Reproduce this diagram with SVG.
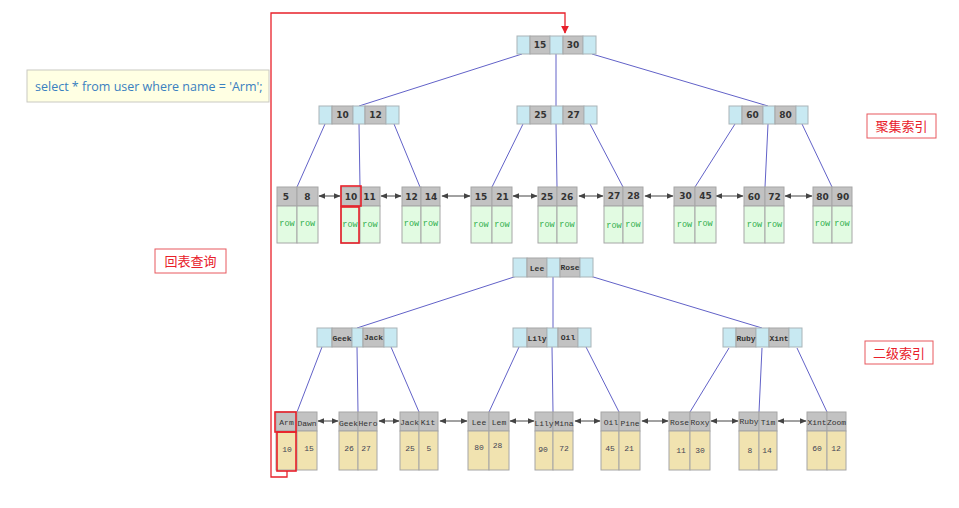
<svg xmlns="http://www.w3.org/2000/svg" width="959" height="508" viewBox="0 0 959 508">
<defs>
<marker id="ah" viewBox="0 0 10 10" refX="9" refY="5" markerWidth="7" markerHeight="7" orient="auto-start-reverse" markerUnits="userSpaceOnUse"><path d="M0,1 L10,5 L0,9 z" fill="#444"/></marker>
<marker id="rh" viewBox="0 0 10 10" refX="9" refY="5" markerWidth="8" markerHeight="8" orient="auto" markerUnits="userSpaceOnUse"><path d="M0,0 L10,5 L0,10 z" fill="#e8202a"/></marker>
<style>
.b{fill:#c8e9f2;stroke:#a9b4b8;stroke-width:1}
.g{fill:#c2c2c2;stroke:#a6a6a6;stroke-width:1}
.gr{fill:#e2fbe2;stroke:#a6a6a6;stroke-width:1}
.ye{fill:#f1e3b0;stroke:#a6a6a6;stroke-width:1}
.k{font-family:"DejaVu Sans",sans-serif;font-weight:bold;font-size:9px;fill:#333;text-anchor:middle}
.m{font-family:"Liberation Mono","DejaVu Sans Mono",monospace;font-size:8px;fill:#333;text-anchor:middle}
.v{font-family:"Liberation Mono","DejaVu Sans Mono",monospace;font-size:8px;fill:#445;text-anchor:middle}
.row{font-family:"Liberation Mono","DejaVu Sans Mono",monospace;font-size:8.5px;fill:#2fae4c;text-anchor:middle}
.ln{stroke:#6262c8;stroke-width:1;fill:none}
.lk{stroke:#444;stroke-width:1;fill:none;marker-start:url(#ah);marker-end:url(#ah)}
.hl{fill:none;stroke:#e8202a;stroke-width:1.6}
.lab{fill:#fff;stroke:#e8585e;stroke-width:1}
.labt{font-family:"Noto Sans CJK SC",sans-serif;font-size:13px;fill:#e8202a;text-anchor:middle}
</style>
</defs>
<rect width="959" height="508" fill="#fff"/>

<!-- connectors -->
<g id="connectors">
<line class="ln" x1="522" y1="54" x2="359" y2="106"/>
<line class="ln" x1="556" y1="54" x2="556" y2="106"/>
<line class="ln" x1="592" y1="54" x2="768" y2="106"/>
<line class="ln" x1="325" y1="124" x2="297" y2="187"/>
<line class="ln" x1="359" y1="124" x2="360" y2="187"/>
<line class="ln" x1="394" y1="124" x2="420" y2="187"/>
<line class="ln" x1="523" y1="124" x2="492" y2="187"/>
<line class="ln" x1="556" y1="124" x2="557" y2="187"/>
<line class="ln" x1="590" y1="124" x2="623" y2="187"/>
<line class="ln" x1="735" y1="124" x2="695" y2="187"/>
<line class="ln" x1="768" y1="124" x2="765" y2="187"/>
<line class="ln" x1="802" y1="124" x2="832" y2="187"/>

<line class="ln" x1="517" y1="276" x2="357" y2="328"/>
<line class="ln" x1="553" y1="276" x2="553" y2="328"/>
<line class="ln" x1="590" y1="276" x2="762" y2="328"/>
<line class="ln" x1="322" y1="347" x2="297" y2="412"/>
<line class="ln" x1="357" y1="347" x2="358" y2="412"/>
<line class="ln" x1="391" y1="347" x2="419" y2="412"/>
<line class="ln" x1="519" y1="347" x2="489" y2="412"/>
<line class="ln" x1="552" y1="347" x2="553" y2="412"/>
<line class="ln" x1="586" y1="347" x2="619" y2="412"/>
<line class="ln" x1="729" y1="348" x2="690" y2="412"/>
<line class="ln" x1="762" y1="348" x2="759" y2="412"/>
<line class="ln" x1="797" y1="348" x2="827" y2="412"/>

<line class="lk" x1="319" y1="196" x2="340" y2="196"/>
<line class="lk" x1="381" y1="196" x2="401" y2="196"/>
<line class="lk" x1="442" y1="196" x2="470" y2="196"/>
<line class="lk" x1="513" y1="196" x2="537" y2="196"/>
<line class="lk" x1="579" y1="196" x2="603" y2="196"/>
<line class="lk" x1="645" y1="196" x2="673" y2="196"/>
<line class="lk" x1="716" y1="196" x2="743" y2="196"/>
<line class="lk" x1="785" y1="196" x2="812" y2="196"/>

<line class="lk" x1="318" y1="421" x2="338" y2="421"/>
<line class="lk" x1="379" y1="421" x2="399" y2="421"/>
<line class="lk" x1="440" y1="421" x2="467" y2="421"/>
<line class="lk" x1="510" y1="421" x2="534" y2="421"/>
<line class="lk" x1="575" y1="421" x2="600" y2="421"/>
<line class="lk" x1="642" y1="421" x2="668" y2="421"/>
<line class="lk" x1="711" y1="421" x2="738" y2="421"/>
<line class="lk" x1="778" y1="421" x2="806" y2="421"/>

<path d="M287,471 V477 H271 V13 H565 V33" fill="none" stroke="#e8202a" stroke-width="1.3" marker-end="url(#rh)"/>
</g>

<!-- query box -->
<g id="query">
<rect x="27" y="70" width="242" height="32" fill="#ffffe3" stroke="#c9c9c2"/>
<text x="35" y="91" font-family="'Open Sans','Noto Sans',sans-serif" font-size="12.5" fill="#3a80c0">select * from user where name = 'Arm';</text>
</g>

<!-- labels -->
<g id="label-clustered"><rect class="lab" x="867" y="114" width="69" height="24"/><text class="labt" x="901.5" y="131">聚集索引</text></g>
<g id="label-secondary"><rect class="lab" x="865" y="341" width="68" height="23"/><text class="labt" x="899" y="357.5">二级索引</text></g>
<g id="label-lookup"><rect class="lab" x="155" y="249" width="71" height="24"/><text class="labt" x="190.5" y="266">回表查询</text></g>

<!-- clustered index internal nodes -->
<g id="c-root">
<rect class="b" x="517" y="36" width="13" height="18"/><rect class="g" x="530" y="36" width="20" height="18"/><rect class="b" x="550" y="36" width="13" height="18"/><rect class="g" x="563" y="36" width="20" height="18"/><rect class="b" x="583" y="36" width="13" height="18"/>
<text class="k" x="540" y="48">15</text><text class="k" x="573" y="48">30</text>
</g>
<g id="c-n1">
<rect class="b" x="319" y="106" width="13" height="18"/><rect class="g" x="332" y="106" width="21" height="18"/><rect class="b" x="353" y="106" width="12" height="18"/><rect class="g" x="365" y="106" width="21" height="18"/><rect class="b" x="386" y="106" width="13" height="18"/>
<text class="k" x="342.5" y="118">10</text><text class="k" x="375.5" y="118">12</text>
</g>
<g id="c-n2">
<rect class="b" x="517" y="106" width="13" height="18"/><rect class="g" x="530" y="106" width="21" height="18"/><rect class="b" x="551" y="106" width="12" height="18"/><rect class="g" x="563" y="106" width="21" height="18"/><rect class="b" x="584" y="106" width="13" height="18"/>
<text class="k" x="540.5" y="118">25</text><text class="k" x="573.5" y="118">27</text>
</g>
<g id="c-n3">
<rect class="b" x="729" y="106" width="13" height="18"/><rect class="g" x="742" y="106" width="21" height="18"/><rect class="b" x="763" y="106" width="12" height="18"/><rect class="g" x="775" y="106" width="21" height="18"/><rect class="b" x="796" y="106" width="12" height="18"/>
<text class="k" x="752.5" y="118">60</text><text class="k" x="785.5" y="118">80</text>
</g>

<!-- clustered leaves -->
<g id="c-l1"><rect class="g" x="277" y="187" width="20" height="19"/><rect class="g" x="297" y="187" width="21" height="19"/><rect class="gr" x="277" y="206" width="20" height="37"/><rect class="gr" x="297" y="206" width="21" height="37"/><text class="k" x="286" y="200">5</text><text class="k" x="307.5" y="200">8</text><text class="row" x="287" y="226">row</text><text class="row" x="307.5" y="226">row</text></g>
<g id="c-l2"><rect class="g" x="341" y="187" width="19" height="19"/><rect class="g" x="360" y="187" width="20" height="19"/><rect class="gr" x="341" y="206" width="19" height="37"/><rect class="gr" x="360" y="206" width="20" height="37"/><text class="k" x="351" y="200">10</text><text class="k" x="369.5" y="200">11</text><text class="row" x="350" y="227">row</text><text class="row" x="370" y="227">row</text></g>
<g id="c-l3"><rect class="g" x="402" y="187" width="19" height="19"/><rect class="g" x="421" y="187" width="19" height="19"/><rect class="gr" x="402" y="206" width="19" height="37"/><rect class="gr" x="421" y="206" width="19" height="37"/><text class="k" x="411.5" y="200">12</text><text class="k" x="431" y="200">14</text><text class="row" x="411.5" y="226">row</text><text class="row" x="430.5" y="226">row</text></g>
<g id="c-l4"><rect class="g" x="471" y="187" width="21" height="19"/><rect class="g" x="492" y="187" width="20" height="19"/><rect class="gr" x="471" y="206" width="21" height="37"/><rect class="gr" x="492" y="206" width="20" height="37"/><text class="k" x="481" y="200">15</text><text class="k" x="502.5" y="200">21</text><text class="row" x="481" y="227">row</text><text class="row" x="502" y="227">row</text></g>
<g id="c-l5"><rect class="g" x="538" y="187" width="19" height="19"/><rect class="g" x="557" y="187" width="20" height="19"/><rect class="gr" x="538" y="206" width="19" height="37"/><rect class="gr" x="557" y="206" width="20" height="37"/><text class="k" x="547" y="200">25</text><text class="k" x="567" y="200">26</text><text class="row" x="547" y="227">row</text><text class="row" x="567" y="227">row</text></g>
<g id="c-l6"><rect class="g" x="604" y="187" width="19" height="19"/><rect class="g" x="623" y="187" width="20" height="19"/><rect class="gr" x="604" y="206" width="19" height="37"/><rect class="gr" x="623" y="206" width="20" height="37"/><text class="k" x="614" y="199">27</text><text class="k" x="633.5" y="199">28</text><text class="row" x="614" y="228">row</text><text class="row" x="633" y="227">row</text></g>
<g id="c-l7"><rect class="g" x="674" y="187" width="21" height="19"/><rect class="g" x="695" y="187" width="21" height="19"/><rect class="gr" x="674" y="206" width="21" height="37"/><rect class="gr" x="695" y="206" width="21" height="37"/><text class="k" x="685.5" y="199">30</text><text class="k" x="705.5" y="199">45</text><text class="row" x="684.5" y="227">row</text><text class="row" x="705" y="226">row</text></g>
<g id="c-l8"><rect class="g" x="744" y="187" width="21" height="19"/><rect class="g" x="765" y="187" width="19" height="19"/><rect class="gr" x="744" y="206" width="21" height="37"/><rect class="gr" x="765" y="206" width="19" height="37"/><text class="k" x="754" y="200">60</text><text class="k" x="774.5" y="200">72</text><text class="row" x="754.5" y="227">row</text><text class="row" x="774.5" y="227">row</text></g>
<g id="c-l9"><rect class="g" x="813" y="187" width="19" height="19"/><rect class="g" x="832" y="187" width="20" height="19"/><rect class="gr" x="813" y="206" width="19" height="37"/><rect class="gr" x="832" y="206" width="20" height="37"/><text class="k" x="822.5" y="200">80</text><text class="k" x="843" y="200">90</text><text class="row" x="822.5" y="226">row</text><text class="row" x="842" y="226">row</text></g>

<!-- secondary index internal nodes -->
<g id="s-root">
<rect class="b" x="513" y="258" width="14" height="19"/><rect class="g" x="527" y="258" width="20" height="19"/><rect class="b" x="547" y="258" width="13" height="19"/><rect class="g" x="560" y="258" width="20" height="19"/><rect class="b" x="580" y="258" width="13" height="19"/>
<text class="m" x="537" y="271" font-weight="bold">Lee</text><text class="m" x="570" y="270" font-weight="bold">Rose</text>
</g>
<g id="s-n1">
<rect class="b" x="317" y="328" width="15" height="19"/><rect class="g" x="332" y="328" width="20" height="19"/><rect class="b" x="352" y="328" width="11" height="19"/><rect class="g" x="363" y="328" width="21" height="19"/><rect class="b" x="384" y="328" width="13" height="19"/>
<text class="m" x="342" y="341" font-weight="bold">Geek</text><text class="m" x="373.5" y="340" font-weight="bold">Jack</text>
</g>
<g id="s-n2">
<rect class="b" x="513" y="328" width="14" height="19"/><rect class="g" x="527" y="328" width="20" height="19"/><rect class="b" x="547" y="328" width="11" height="19"/><rect class="g" x="558" y="328" width="20" height="19"/><rect class="b" x="578" y="328" width="13" height="19"/>
<text class="m" x="537" y="341" font-weight="bold">Lily</text><text class="m" x="568" y="340" font-weight="bold">Oil</text>
</g>
<g id="s-n3">
<rect class="b" x="723" y="328" width="13" height="19"/><rect class="g" x="736" y="328" width="20" height="19"/><rect class="b" x="756" y="328" width="13" height="19"/><rect class="g" x="769" y="328" width="20" height="19"/><rect class="b" x="789" y="328" width="13" height="19"/>
<text class="m" x="746" y="341" font-weight="bold">Ruby</text><text class="m" x="779" y="341" font-weight="bold">Xint</text>
</g>

<!-- secondary leaves -->
<g id="s-l1"><rect class="g" x="276" y="412" width="21" height="19"/><rect class="g" x="297" y="412" width="20" height="19"/><rect class="ye" x="276" y="431" width="21" height="39"/><rect class="ye" x="297" y="431" width="20" height="39"/><text class="m" x="286.5" y="425">Arm</text><text class="m" x="307" y="426">Dawn</text><text class="v" x="287" y="452">10</text><text class="v" x="309" y="451">15</text></g>
<g id="s-l2"><rect class="g" x="339" y="412" width="19" height="19"/><rect class="g" x="358" y="412" width="19" height="19"/><rect class="ye" x="339" y="431" width="19" height="39"/><rect class="ye" x="358" y="431" width="19" height="39"/><text class="m" x="348.5" y="426">Geek</text><text class="m" x="368" y="426">Hero</text><text class="v" x="349" y="451">26</text><text class="v" x="366" y="451">27</text></g>
<g id="s-l3"><rect class="g" x="400" y="412" width="19" height="19"/><rect class="g" x="419" y="412" width="19" height="19"/><rect class="ye" x="400" y="431" width="19" height="39"/><rect class="ye" x="419" y="431" width="19" height="39"/><text class="m" x="409.5" y="425">Jack</text><text class="m" x="428" y="425">Kit</text><text class="v" x="410" y="451">25</text><text class="v" x="429" y="451">5</text></g>
<g id="s-l4"><rect class="g" x="468" y="412" width="21" height="19"/><rect class="g" x="489" y="412" width="20" height="19"/><rect class="ye" x="468" y="431" width="21" height="39"/><rect class="ye" x="489" y="431" width="20" height="39"/><text class="m" x="479" y="425">Lee</text><text class="m" x="499" y="425">Lem</text><text class="v" x="479" y="450">80</text><text class="v" x="497.5" y="448">28</text></g>
<g id="s-l5"><rect class="g" x="535" y="412" width="18" height="19"/><rect class="g" x="553" y="412" width="20" height="19"/><rect class="ye" x="535" y="431" width="18" height="39"/><rect class="ye" x="553" y="431" width="20" height="39"/><text class="m" x="544" y="426">Lily</text><text class="m" x="564" y="426">Mina</text><text class="v" x="543" y="452">90</text><text class="v" x="564" y="451">72</text></g>
<g id="s-l6"><rect class="g" x="601" y="412" width="18" height="19"/><rect class="g" x="619" y="412" width="21" height="19"/><rect class="ye" x="601" y="431" width="18" height="39"/><rect class="ye" x="619" y="431" width="21" height="39"/><text class="m" x="611" y="425">Oil</text><text class="m" x="630" y="426">Pine</text><text class="v" x="610" y="451">45</text><text class="v" x="629" y="451">21</text></g>
<g id="s-l7"><rect class="g" x="669" y="412" width="21" height="19"/><rect class="g" x="690" y="412" width="20" height="19"/><rect class="ye" x="669" y="431" width="21" height="39"/><rect class="ye" x="690" y="431" width="20" height="39"/><text class="m" x="679.5" y="425">Rose</text><text class="m" x="700" y="425">Roxy</text><text class="v" x="681" y="453">11</text><text class="v" x="700" y="453">30</text></g>
<g id="s-l8"><rect class="g" x="739" y="412" width="20" height="19"/><rect class="g" x="759" y="412" width="18" height="19"/><rect class="ye" x="739" y="431" width="20" height="39"/><rect class="ye" x="759" y="431" width="18" height="39"/><text class="m" x="749" y="424">Ruby</text><text class="m" x="768" y="425">Tim</text><text class="v" x="750" y="453">8</text><text class="v" x="767" y="453">14</text></g>
<g id="s-l9"><rect class="g" x="807" y="412" width="20" height="19"/><rect class="g" x="827" y="412" width="19" height="19"/><rect class="ye" x="807" y="431" width="20" height="39"/><rect class="ye" x="827" y="431" width="19" height="39"/><text class="m" x="817" y="425">Xint</text><text class="m" x="836.5" y="425">Zoom</text><text class="v" x="817" y="451">60</text><text class="v" x="836" y="451">12</text></g>

<!-- highlights -->
<g id="highlights">
<rect class="hl" x="341" y="186" width="20" height="20"/>
<rect class="hl" x="341" y="207" width="18" height="36"/>
<rect class="hl" x="275" y="412" width="21" height="20"/>
<rect class="hl" x="277" y="432" width="19" height="39"/>
</g>
</svg>
